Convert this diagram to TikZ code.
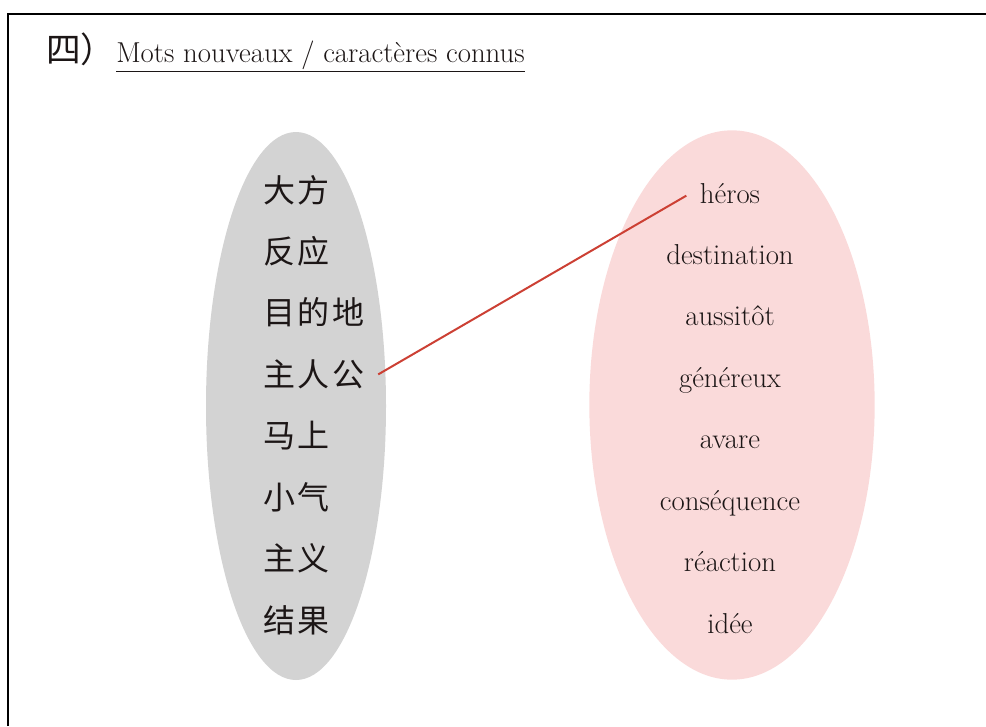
\documentclass[tikz,border=0pt]{standalone}
\usepackage{fontspec}
\newfontfamily\cjk[LetterSpace=8]{Noto Sans CJK SC}
\newfontfamily\cjktitle{Noto Sans CJK SC}
\usetikzlibrary{positioning,shapes.geometric}

\definecolor{setgray}{RGB}{211,211,211}
\definecolor{setpink}{RGB}{250,218,218}
\definecolor{linkred}{RGB}{204,64,52}
\definecolor{inkdark}{RGB}{28,22,22}

\begin{document}
\begin{tikzpicture}[x=0.75pt,y=-0.75pt,node distance=46.1pt,
  set/.style={ellipse,inner sep=0pt},
  zi/.style={font=\cjk\fontsize{24}{28}\selectfont,text=inkdark,inner sep=0pt,
    text width=86pt,align=left,text height=21pt,text depth=3pt},
  mot/.style={font=\fontsize{21.6}{26}\selectfont,text=inkdark,inner ysep=0pt,
    inner xsep=10pt,text height=15pt,text depth=4pt}]

  \useasboundingbox (0,0) rectangle (986,726);
  \draw[line width=1.2pt] (8,726) -- (8,14) -- (986,14);

  % title
  \node[anchor=base west,inner sep=0pt,font=\cjktitle\fontsize{26}{30}\selectfont,text=inkdark] (num) at (46,62) {四）};
  \node[anchor=base west,inner sep=0pt,font=\fontsize{21.6}{26}\selectfont,text=inkdark] (title) at (116,62)
    {\underline{Mots nouveaux / caractères connus}};

  % the two sets
  \node[set,fill=setgray,minimum width=135pt,minimum height=411pt] (zhong) at (296,406) {};
  \node[set,fill=setpink,minimum width=214pt,minimum height=412pt] (fa) at (732,405) {};

  \node[zi,anchor=base west] (dafang) at (263,202) {大方};
  \node[zi] (fanying) [below of=dafang] {反应};
  \node[zi] (mudidi) [below of=fanying] {目的地};
  \node[zi] (zhurengong) [below of=mudidi] {主人公};
  \node[zi] (mashang) [below of=zhurengong] {马上};
  \node[zi] (xiaoqi) [below of=mashang] {小气};
  \node[zi] (zhuyi) [below of=xiaoqi] {主义};
  \node[zi] (jieguo) [below of=zhuyi] {结果};

  \node[mot,anchor=base] (heros) at (730,203) {héros};
  \node[mot] (destination) [below of=heros] {destination};
  \node[mot] (aussitot) [below of=destination] {aussitôt};
  \node[mot] (genereux) [below of=aussitot] {généreux};
  \node[mot] (avare) [below of=genereux] {avare};
  \node[mot] (consequence) [below of=avare] {conséquence};
  \node[mot] (reaction) [below of=consequence] {réaction};
  \node[mot] (idee) [below of=reaction] {idée};

  \draw[linkred,line width=1.5pt] (zhurengong.east) -- (heros.west);
\end{tikzpicture}
\end{document}
